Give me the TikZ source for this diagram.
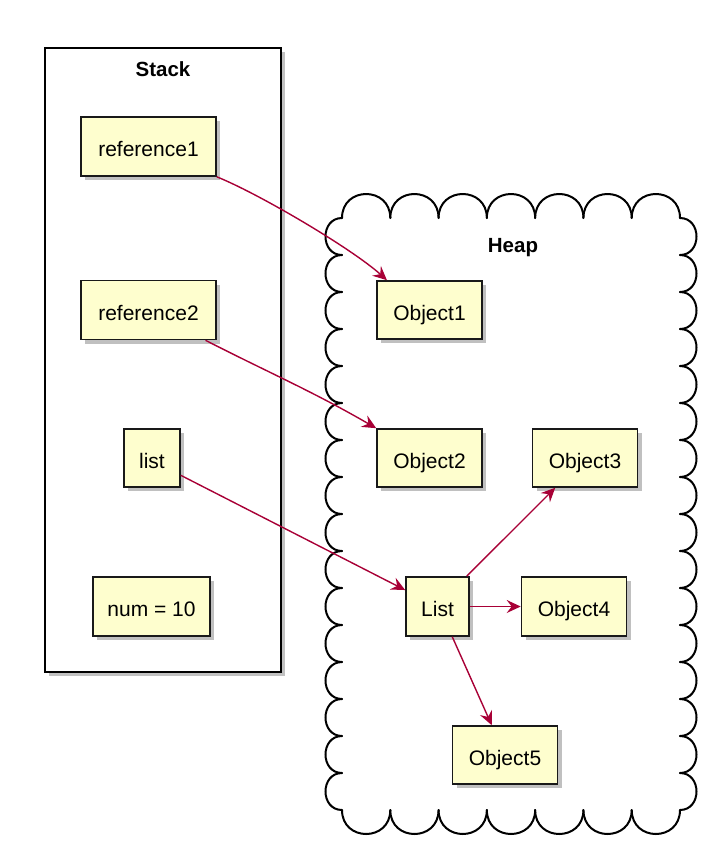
\documentclass[tikz,border=0pt]{standalone}
\usepackage{fontspec}
\setmainfont{Liberation Sans}
\usetikzlibrary{positioning,shadows,arrows.meta,calc}
\tikzstyle{canvas} = [x = 1pt, y = 1pt]
\definecolor{boxFill}{RGB}{254,254,206}
\definecolor{arrowColor}{RGB}{168,0,54}
\tikzstyle{shadowStyle} = [drop shadow={shadow xshift=4pt, shadow yshift=-4pt, opacity=0.35, fill=black!70}]
\tikzstyle{memBox} = [draw=black!90, fill=boxFill, line width=1.6pt, inner sep=0pt, text height=20pt, text depth=0pt, font=\fontsize{21}{25}\selectfont, shadowStyle]
\tikzstyle{areaFrame} = [draw=black, fill=white, line width=1.6pt, inner sep=0pt, shadowStyle]
\tikzstyle{areaTitle} = [font=\fontsize{20.5}{24}\selectfont\bfseries]
\tikzstyle{refArrow} = [draw=arrowColor, line width=1.4pt, -{Stealth[length=14pt, width=13pt, inset=5pt]}]
\tikzstyle{cloudLine} = [draw=black, line width=2pt, line cap=round]
\newcommand{\bumpsHorizontal}[5]{
  \pgfmathsetmacro{\bumpWidth}{(#3-(#2))/#4}
  \foreach \k in {1,...,#4} {
    \draw [cloudLine] ({#2+(\k-1)*\bumpWidth},#1) .. controls +(0,#5) and +(0,#5) .. ({#2+\k*\bumpWidth},#1);
  }
}
\newcommand{\bumpsVertical}[5]{
  \pgfmathsetmacro{\bumpHeight}{(#3-(#2))/#4}
  \foreach \k in {1,...,#4} {
    \draw [cloudLine] (#1,{#2+(\k-1)*\bumpHeight}) .. controls +(#5,0) and +(#5,0) .. (#1,{#2+\k*\bumpHeight});
  }
}

\begin{document}
\begin{tikzpicture}[canvas]
  \useasboundingbox (0,0) rectangle (725,-863);

  % stack frame
  \node [areaFrame, minimum width=236pt, minimum height=624pt] (stack) at (163,-360) {};
  \node [areaTitle] (stackTitle) at (163,-69) {Stack};

  % heap cloud
  \fill [white] (342,-218) rectangle (680,-810);
  \bumpsHorizontal{-218}{342}{680}{7}{32}
  \bumpsHorizontal{-810}{342}{680}{7}{-32}
  \bumpsVertical{342}{-218}{-810}{16}{-22}
  \bumpsVertical{680}{-218}{-810}{16}{22}
  \node [areaTitle] (heapTitle) at (513,-248) {Heap};

  % stack entries
  \node [memBox, minimum width=135pt, minimum height=59pt] (ref1) at (148.5,-146.5) {reference1};
  \node [memBox, minimum width=135pt, minimum height=59pt] (ref2) at (148.5,-310) {reference2};
  \node [memBox, minimum width=56pt, minimum height=58pt] (list) at (152,-458) {list};
  \node [memBox, minimum width=117pt, minimum height=59pt] (num) at (151.5,-606.5) {num = 10};

  % heap objects
  \node [memBox, minimum width=105pt, minimum height=58pt] (obj1) at (429.5,-310) {Object1};
  \node [memBox, minimum width=105pt, minimum height=58pt] (obj2) at (429.5,-458) {Object2};
  \node [memBox, minimum width=105pt, minimum height=58pt] (obj3) at (585,-458) {Object3};
  \node [memBox, minimum width=63pt, minimum height=59pt] (listObj) at (437.5,-606.5) {List};
  \node [memBox, minimum width=105pt, minimum height=59pt] (obj4) at (574,-606.5) {Object4};
  \node [memBox, minimum width=105pt, minimum height=58pt] (obj5) at (505,-755) {Object5};

  % references
  \draw [refArrow] (ref1.south east) to [out=-22, in=138, looseness=0.6] (obj1.145);
  \draw [refArrow] (ref2.-28) to [out=-27, in=150] (obj2.north west);
  \draw [refArrow] (list.-31) to (listObj.153);
  \draw [refArrow] (listObj.46.5) to (obj3.225);
  \draw [refArrow] (listObj.east) to (obj4.west);
  \draw [refArrow] (listObj.-64.6) to (obj5.114);
\end{tikzpicture}
\end{document}
